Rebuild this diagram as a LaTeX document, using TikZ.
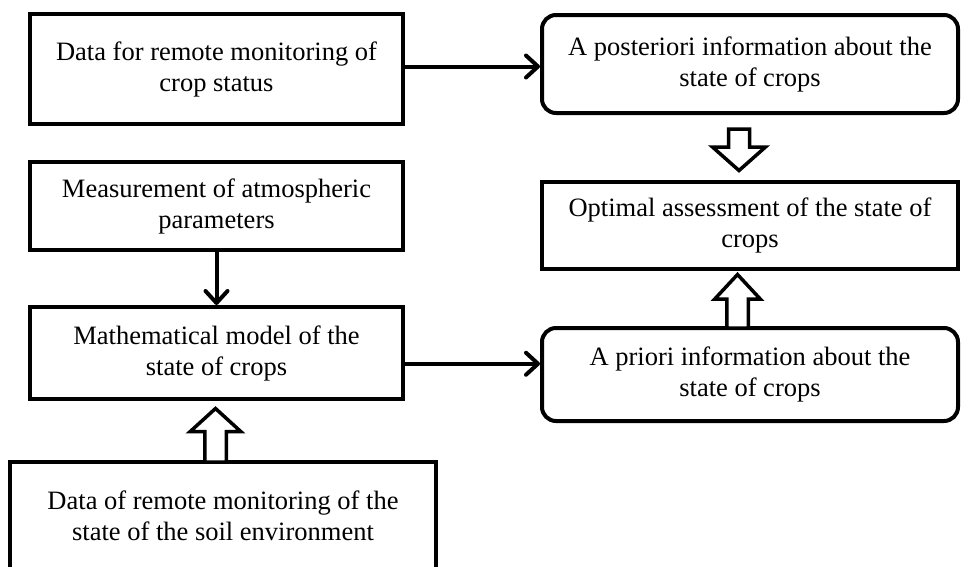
\documentclass[tikz,border=0pt]{standalone}
\usepackage{fontspec}
\setmainfont{Liberation Serif}
\usetikzlibrary{arrows.meta,calc}
\begin{document}
\begin{tikzpicture}[x=1pt,y=-1pt,
  box/.style={draw,line width=4pt,align=center,inner sep=0pt,font=\fontsize{26.5}{31}\selectfont},
  rbox/.style={box,rounded corners=14pt},
  link/.style={line width=4pt,-{Straight Barb[length=12pt,width=22pt,line cap=round,line join=round]}},
  hollow/.style={draw,line width=3.5pt,fill=white,line join=miter}]
\useasboundingbox (0,0) rectangle (962,566);
\clip (0,0) rectangle (962,566);
% boxes
\node[box,minimum width=373pt,minimum height=110pt] (b1) at (216.5,69) {Data for remote monitoring of\\crop status};
\node[box,minimum width=373pt,minimum height=88pt] (b3) at (216.5,206) {Measurement of atmospheric\\parameters};
\node[box,minimum width=373pt,minimum height=92pt] (b5) at (216.5,353) {Mathematical model of the\\state of crops};
\node[box,minimum width=426pt,minimum height=108pt] (b7) at (223,516) {Data of remote monitoring of the\\state of the soil environment};
\node[rbox,minimum width=416pt,minimum height=98pt] (b2) at (750,64) {A posteriori information about the\\state of crops};
\node[box,minimum width=416pt,minimum height=87pt] (b4) at (750,225.5) {Optimal assessment of the state of\\crops};
\node[rbox,minimum width=416pt,minimum height=93pt] (b6) at (750,374.5) {A priori information about the\\state of crops};
% thin arrows
\coordinate (m1) at ($(b1.east)!.5!(b2.west)$);
\draw[link] (b1.east |- m1) -- (b2.west |- m1);
\coordinate (m2) at ($(b5.east)!.5!(b6.west)$);
\draw[link] (b5.east |- m2) -- (b6.west |- m2);
\draw[link] (b3.south) -- (b5.north);
% hollow arrow b2 -> b4
\coordinate (h1a) at ($(b2.south)+(-11,14)$);
\coordinate (h1b) at ($(b4.north)+(-11,-9.5)$);
\draw[hollow] ($(h1a)+(-10.5,0)$) -- ($(h1b)+(-10.5,-23.5)$) -- ($(h1b)+(-26.5,-23.5)$) -- (h1b)
  -- ($(h1b)+(26.5,-23.5)$) -- ($(h1b)+(10.5,-23.5)$) -- ($(h1a)+(10.5,0)$) -- cycle;
% hollow arrow b6 -> b4
\coordinate (h2a) at ($(b6.north)+(-12.5,2)$);
\coordinate (h2b) at ($(b4.south)+(-12.5,3.5)$);
\draw[hollow] ($(h2a)+(-10.75,0)$) -- ($(h2b)+(-10.75,24.5)$) -- ($(h2b)+(-22.75,24.5)$) -- (h2b)
  -- ($(h2b)+(22.75,24.5)$) -- ($(h2b)+(10.75,24.5)$) -- ($(h2a)+(10.75,0)$) -- cycle;
% hollow arrow b7 -> b5
\coordinate (h3a) at ($(b7.north)+(-7.5,2)$);
\coordinate (h3b) at ($(b5.south)+(-1,7.5)$);
\draw[hollow] ($(h3a)+(-10.75,0)$) -- ($(h3b)+(-10.75,23)$) -- ($(h3b)+(-25.25,23)$) -- (h3b)
  -- ($(h3b)+(25.25,23)$) -- ($(h3b)+(10.75,23)$) -- ($(h3a)+(10.75,0)$) -- cycle;
\end{tikzpicture}
\end{document}
